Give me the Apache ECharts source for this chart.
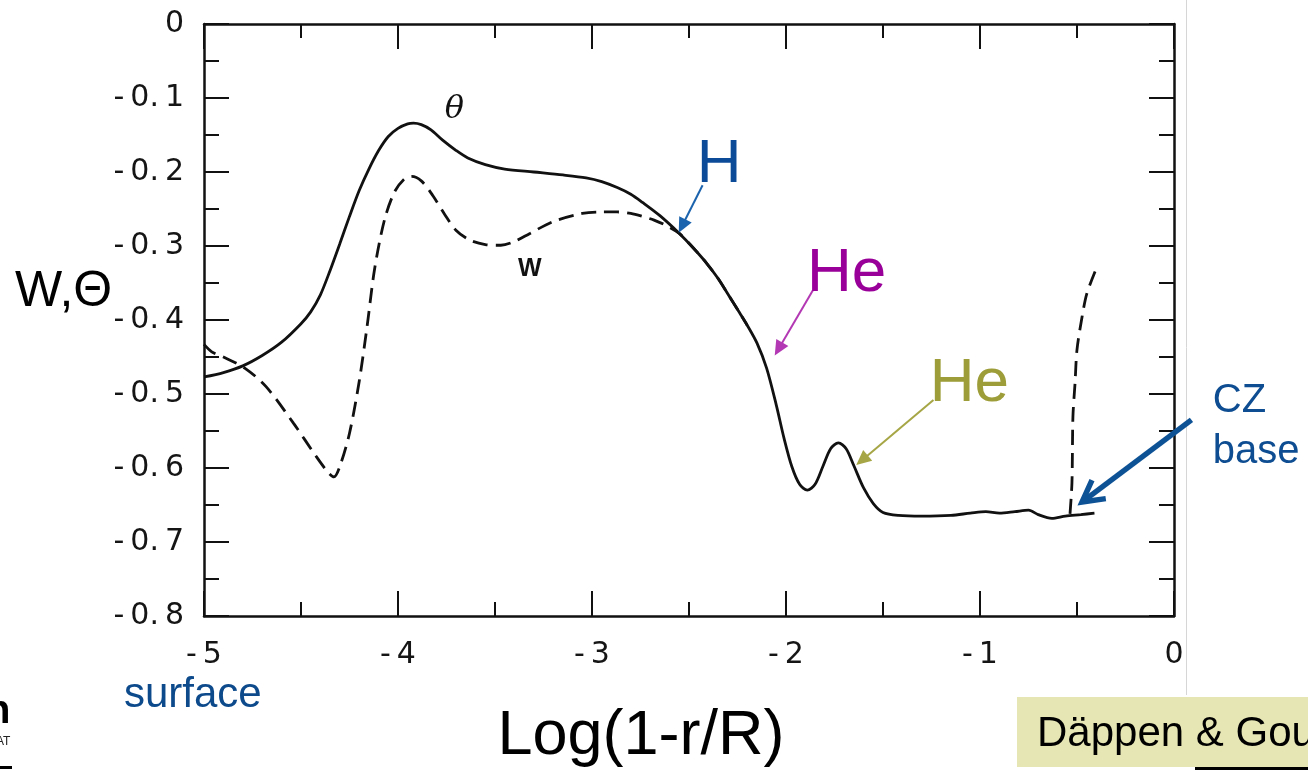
<!DOCTYPE html>
<html>
<head>
<meta charset="utf-8">
<script src="https://cdn.jsdelivr.net/npm/echarts/dist/echarts.min.js"></script>
<style>
html,body{margin:0;padding:0;background:#fff;}
#c{width:1308px;height:770px;}
</style>
</head>
<body>
<div id="c"></div>
<script>
// ---- data ----
const xTicks = [-5, -4, -3, -2, -1, 0];
const yTicks = [0, -0.1, -0.2, -0.3, -0.4, -0.5, -0.6, -0.7, -0.8];

// Theta (solid)
const thetaX = [-5.00,-4.90,-4.80,-4.70,-4.60,-4.50,-4.45,-4.40,-4.35,-4.30,-4.25,-4.20,-4.15,-4.10,-4.05,-4.00,-3.95,-3.92,-3.88,-3.83,-3.77,-3.70,-3.64,-3.55,-3.45,-3.30,-3.15,-3.03,-2.95,-2.87,-2.80,-2.74,-2.65,-2.55,-2.48,-2.41,-2.35,-2.29,-2.24,-2.20,-2.15,-2.10,-2.05,-2.01,-1.97,-1.93,-1.89,-1.85,-1.81,-1.77,-1.73,-1.69,-1.65,-1.60,-1.55,-1.50,-1.42,-1.30,-1.15,-1.05,-0.97,-0.90,-0.82,-0.75,-0.70,-0.63,-0.56,-0.48,-0.41];
const thetaY = [-0.477,-0.471,-0.462,-0.448,-0.430,-0.405,-0.389,-0.366,-0.333,-0.297,-0.260,-0.225,-0.196,-0.171,-0.152,-0.141,-0.135,-0.134,-0.136,-0.143,-0.157,-0.171,-0.181,-0.190,-0.196,-0.200,-0.204,-0.208,-0.213,-0.221,-0.230,-0.241,-0.259,-0.283,-0.302,-0.323,-0.344,-0.369,-0.390,-0.407,-0.431,-0.465,-0.515,-0.560,-0.598,-0.622,-0.630,-0.622,-0.598,-0.574,-0.566,-0.574,-0.597,-0.627,-0.648,-0.660,-0.664,-0.665,-0.664,-0.661,-0.659,-0.661,-0.659,-0.657,-0.663,-0.668,-0.665,-0.663,-0.661];

// W (dashed); null marks a gap
const wX = [-5.00,-4.96,-4.90,-4.79,-4.68,-4.54,-4.42,-4.36,-4.33,-4.30,-4.25,-4.20,-4.16,-4.12,-4.07,-4.02,-3.97,-3.93,-3.88,-3.82,-3.76,-3.70,-3.63,-3.55,-3.47,-3.40,-3.32,-3.20,-3.05,-2.95,-2.87,-2.80,-2.74,-2.68,-2.62,-2.55,-2.48,-2.41,-2.35,-2.29,-2.24,-2.20,null,-0.536,-0.526,-0.521,-0.510,-0.500,-0.474,-0.449,-0.400];
const wY = [-0.433,-0.443,-0.450,-0.465,-0.490,-0.539,-0.585,-0.606,-0.612,-0.598,-0.553,-0.483,-0.410,-0.330,-0.265,-0.228,-0.210,-0.206,-0.212,-0.232,-0.257,-0.279,-0.292,-0.298,-0.299,-0.294,-0.283,-0.267,-0.256,-0.254,-0.254,-0.256,-0.260,-0.265,-0.272,-0.283,-0.302,-0.323,-0.344,-0.369,-0.390,-0.407,null,-0.662,-0.620,-0.531,-0.485,-0.440,-0.396,-0.364,-0.330];

const thetaData = thetaX.map((x, i) => [x, thetaY[i]]);
const wData = wX.map((x, i) => (x === null ? '-' : [x, wY[i]]));

const chart = echarts.init(document.getElementById('c'), null, {renderer: 'canvas'});

const axisLineStyle = {color: '#111', width: 2.5};
const tickFont = {fontFamily: 'DejaVu Sans', fontSize: 30, color: '#151515'};
const TS = '\u2009';

function xAxisCfg(pos, showLabel) {
  return {
    type: 'value', position: pos, min: xTicks[0], max: xTicks[xTicks.length - 1], interval: 1,
    axisLine: {show: true, onZero: false, lineStyle: axisLineStyle},
    axisTick: {show: true, inside: true, length: 25, lineStyle: {color: '#111', width: 2}},
    minorTick: {show: true, splitNumber: 2, length: 14, lineStyle: {color: '#111', width: 2}},
    splitLine: {show: false}, minorSplitLine: {show: false},
    axisLabel: Object.assign({show: showLabel, margin: 24, formatter: v => {
      const r = Math.round(v); return r < 0 ? '-' + TS + String(-r) : String(r);
    }}, tickFont)
  };
}
function yAxisCfg(pos, showLabel) {
  return {
    type: 'value', position: pos, min: yTicks[yTicks.length - 1], max: yTicks[0], interval: 0.1,
    axisLine: {show: true, onZero: false, lineStyle: axisLineStyle},
    axisTick: {show: true, inside: true, length: 25, lineStyle: {color: '#111', width: 2}},
    minorTick: {show: true, splitNumber: 2, length: 15, lineStyle: {color: '#111', width: 2}},
    splitLine: {show: false}, minorSplitLine: {show: false},
    axisLabel: Object.assign({show: showLabel, margin: 20, formatter: v => {
      if (Math.abs(v) < 1e-9) return '0';
      const s = Math.abs(v).toFixed(1).split('.');
      return '-' + TS + s[0] + '.' + TS + s[1];
    }}, tickFont)
  };
}

chart.setOption({
  backgroundColor: '#ffffff',
  animation: false,
  grid: {left: 204, top: 24, width: 970, height: 592, containLabel: false},
  xAxis: [xAxisCfg('bottom', true), xAxisCfg('top', false)],
  yAxis: [yAxisCfg('left', true), yAxisCfg('right', false)],
  series: [
    {
      name: 'θ', type: 'line', xAxisIndex: 0, yAxisIndex: 0, data: thetaData,
      showSymbol: false, smooth: 0.3,
      lineStyle: {color: '#111', width: 2.8}
    },
    {
      name: 'W', type: 'line', xAxisIndex: 0, yAxisIndex: 0, data: wData,
      showSymbol: false, smooth: 0.3, connectNulls: false,
      lineStyle: {color: '#111', width: 2.8, type: [15, 8]}
    }
  ]
});

// ---- annotations (positions in data coordinates, converted by the chart) ----
const P = (x, y) => chart.convertToPixel({gridIndex: 0}, [x, y]);

function arrow(from, to, color, width, head, halfW) {
  const a = P(from[0], from[1]), b = P(to[0], to[1]);
  const dx = b[0] - a[0], dy = b[1] - a[1];
  const L = Math.hypot(dx, dy), ux = dx / L, uy = dy / L;
  const bx = b[0] - ux * head, by = b[1] - uy * head;
  return [
    {type: 'line', shape: {x1: a[0], y1: a[1], x2: bx + ux * 2, y2: by + uy * 2}, style: {stroke: color, lineWidth: width}, z: 10},
    {type: 'polygon', shape: {points: [[b[0], b[1]], [bx - uy * halfW, by + ux * halfW], [bx + uy * halfW, by - ux * halfW]]}, style: {fill: color}, z: 10}
  ];
}
function chevronArrow(from, to, color, width, head) {
  const a = P(from[0], from[1]), b = P(to[0], to[1]);
  const dx = b[0] - a[0], dy = b[1] - a[1];
  const L = Math.hypot(dx, dy), ux = dx / L, uy = dy / L;
  const ang = 0.5;
  const c = Math.cos(ang), s = Math.sin(ang);
  const l1 = [b[0] - head * (ux * c - uy * s), b[1] - head * (uy * c + ux * s)];
  const l2 = [b[0] - head * (ux * c + uy * s), b[1] - head * (uy * c - ux * s)];
  return [
    {type: 'line', shape: {x1: a[0], y1: a[1], x2: b[0] - ux * 2, y2: b[1] - uy * 2}, style: {stroke: color, lineWidth: width, lineCap: 'butt'}, z: 10},
    {type: 'polyline', shape: {points: [l1, [b[0], b[1]], l2]}, style: {stroke: color, lineWidth: width, lineJoin: 'miter', fill: null}, z: 10}
  ];
}
function dtext(x, y, text, font, color, extra) {
  const p = P(x, y);
  return Object.assign({type: 'text', x: p[0], y: p[1], z: 12,
    style: Object.assign({text: text, font: font, fill: color, align: 'center', verticalAlign: 'middle'}, extra || {})});
}

const g = [];
// curve labels
g.push(dtext(-3.71, -0.116, 'θ', 'italic 32px "DejaVu Serif"', '#111'));
g.push(dtext(-3.32, -0.331, 'W', 'bold 25px "Liberation Sans"', '#111'));
// H
g.push(dtext(-2.345, -0.191, 'H', '62px "Liberation Sans"', '#0c4b98'));
g.push(...arrow([-2.43, -0.218], [-2.553, -0.282], '#1b63ad', 2, 15, 7));
// He (magenta)
g.push(dtext(-1.687, -0.338, 'He', '62px "Liberation Sans"', '#990099'));
g.push(...arrow([-1.862, -0.36], [-2.058, -0.448], '#b338b3', 2, 15, 7));
// He (olive)
g.push(dtext(-1.055, -0.487, 'He', '62px "Liberation Sans"', '#9d9d3a'));
g.push(...arrow([-1.24, -0.508], [-1.638, -0.596], '#a6a646', 2, 15, 7));
// CZ base
g.push(dtext(0.2, -0.51, 'CZ', '40px "Liberation Sans"', '#0e4d91', {align: 'left'}));
g.push(dtext(0.2, -0.578, 'base', '40px "Liberation Sans"', '#0e4d91', {align: 'left'}));
g.push(...chevronArrow([0.09, -0.535], [-0.474, -0.646], '#0e5296', 5.5, 24));

// page decorations (slide layout, pixel positions)
g.push({type: 'line', shape: {x1: 1186.5, y1: 0, x2: 1186.5, y2: 695}, style: {stroke: '#d6d6d6', lineWidth: 1}, z: 1});
g.push({type: 'text', x: 15, y: 292, style: {text: 'W,Θ', font: '50px "Liberation Sans"', fill: '#000', align: 'left', verticalAlign: 'middle'}, z: 12});
g.push({type: 'text', x: 641, y: 737, style: {text: 'Log(1-r/R)', font: '63px "Liberation Sans"', fill: '#000', align: 'center', verticalAlign: 'middle'}, z: 12});
g.push({type: 'text', x: 124, y: 695, style: {text: 'surface', font: '42px "Liberation Sans"', fill: '#0c4a8c', align: 'left', verticalAlign: 'middle'}, z: 12});
g.push({type: 'rect', shape: {x: 1017, y: 697, width: 300, height: 70}, style: {fill: '#e6e6b4'}, z: 2});
g.push({type: 'text', x: 1037, y: 734, style: {text: 'Däppen & Gough', font: '42px "Liberation Sans"', fill: '#000', align: 'left', verticalAlign: 'middle'}, z: 12});
g.push({type: 'line', shape: {x1: 1195, y1: 768.5, x2: 1308, y2: 768.5}, style: {stroke: '#000', lineWidth: 3}, z: 3});
// clipped logo fragment at the left edge
g.push({type: 'text', x: -14, y: 712, style: {text: 'n', font: 'bold 40px "Liberation Sans"', fill: '#000', align: 'left', verticalAlign: 'middle'}, z: 12});
g.push({type: 'text', x: -4, y: 742, style: {text: 'AT', font: '12px "Liberation Sans"', fill: '#222', align: 'left', verticalAlign: 'middle'}, z: 12});
g.push({type: 'line', shape: {x1: 0, y1: 767.5, x2: 12, y2: 767.5}, style: {stroke: '#000', lineWidth: 3}, z: 3});

chart.setOption({graphic: g});
</script>
</body>
</html>
